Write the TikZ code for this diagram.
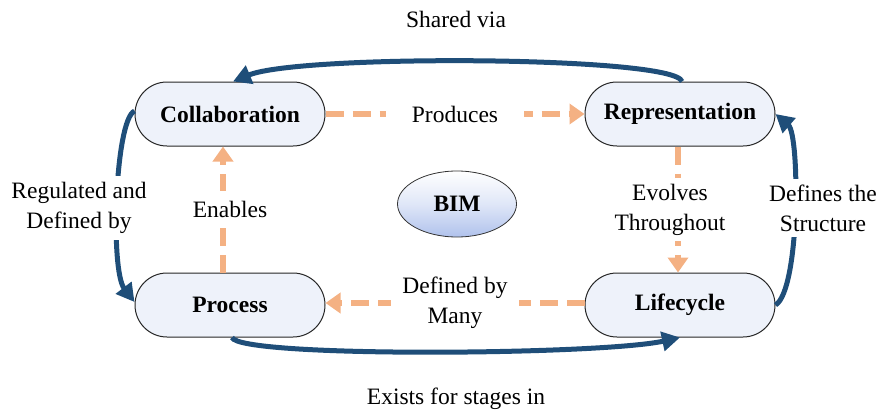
\documentclass[tikz,border=0pt]{standalone}
\usepackage{fontspec}
\setmainfont{Liberation Serif}
\usetikzlibrary{arrows.meta,shapes.geometric}
\definecolor{navy}{HTML}{1F4E79}
\definecolor{peach}{HTML}{F4B183}
\definecolor{nodefill}{HTML}{EEF2FA}
\definecolor{bimblue}{HTML}{B0C2EC}
\begin{document}
\begin{tikzpicture}[x=1pt,y=-1pt,
  concept/.style={draw=black!85, line width=1pt, fill=nodefill, rounded corners=32pt,
    minimum width=190pt, minimum height=64pt, inner sep=0pt,
    font=\fontsize{23.5}{28}\selectfont\bfseries},
  lbl/.style={font=\fontsize{23.5}{30}\selectfont, align=center},
  flow/.style={draw=navy, line width=5pt, -{Triangle[length=18pt,width=19pt]}},
  dep/.style={draw=peach, line width=6pt, dash pattern=on 18pt off 9pt,
    -{Triangle[length=15pt,width=20pt]}},
  gap/.style={lbl, fill=white, inner sep=0pt}
]
\useasboundingbox (0,0) rectangle (880,412);

\node[concept] (collab) at (230,114) {Collaboration};
\node[concept] (rep)    at (680,114) {Representation};
\node[concept] (proc)   at (230,305) {Process};
\node[concept] (life)   at (680,305) {Lifecycle};

\node[ellipse, draw=black!80, line width=0.8pt, minimum width=119pt, minimum height=66pt,
  top color=white, bottom color=bimblue, middle color=white!60!bimblue,
  font=\fontsize{23.5}{28}\selectfont\bfseries]
  (bim) at (457,204) {BIM};

% dashed dependencies
\draw[dep] (collab.east) -- (rep.west)
  node[midway, gap, inner xsep=26pt, inner ysep=4pt] (lprod) {Produces};
\draw[dep] ([xshift=-2pt]rep.south) -- ([xshift=-2pt]life.north)
  node[midway, gap, xshift=-8pt, inner ysep=6pt] (levol) {Evolves\\Throughout};
\draw[dep] ([yshift=2pt]life.west) -- ([yshift=2pt]proc.east)
  node[midway, gap, inner xsep=11pt, inner ysep=2pt] (ldef) {Defined by\\Many};
\draw[dep] ([xshift=-7pt]proc.north) -- ([xshift=-7pt]collab.south)
  node[midway, gap, xshift=7pt, inner xsep=2pt, inner ysep=10pt] (lenab) {Enables};

% solid flows
\draw[flow] ([xshift=2pt]rep.north) .. controls (675,56) and (300,54) .. ([xshift=3pt]collab.north);
\draw[flow] ([yshift=3pt]collab.west) .. controls (115,120) and (110,270) .. ([yshift=3pt]proc.west);
\draw[flow] ([xshift=2pt]proc.south) .. controls (240,358) and (600,355) .. (life.south);
\draw[flow] (life.east) .. controls (800,290) and (800,135) .. (rep.east);

% flow labels
\node[lbl] (lshared) at (456,19) {Shared via};
\node[lbl] (lexists) at (456,399) {Exists for stages in};
\node[gap, inner xsep=2pt, inner ysep=6pt] (lreg) at (79,208) {Regulated and\\Defined by};
\node[gap, inner xsep=2pt, inner ysep=6pt] (ldefs) at (823,208) {Defines the\\Structure};
\end{tikzpicture}
\end{document}
